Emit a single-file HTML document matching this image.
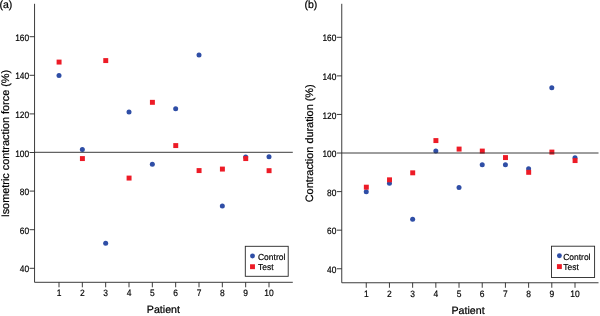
<!DOCTYPE html>
<html><head><meta charset="utf-8"><title>Figure</title>
<style>
html,body{margin:0;padding:0;background:#fff;}
svg{display:block;will-change:transform;}
text{font-family:"Liberation Sans",Arial,Helvetica,sans-serif;fill:#000;stroke:#000;stroke-width:0.22px;text-rendering:geometricPrecision;}
.t{font-size:9.3px;stroke-width:0.18px;}
.l{font-size:8.7px;stroke-width:0.18px;}
.p{font-size:10.5px;}
.y{font-size:10.88px;}
.x{font-size:10.65px;}
</style></head>
<body>
<svg width="600" height="316" viewBox="0 0 600 316">
<rect width="600" height="316" fill="#fff"/>
<path d="M34.55 3.8V282.3H292.8" fill="none" stroke="#262626" stroke-width="0.9"/>
<path d="M29.549999999999997 36.70H34.55" stroke="#262626" stroke-width="0.9"/>
<text transform="translate(29.1 40.85) scale(0.90 1)" text-anchor="end" class="t">160</text>
<path d="M29.549999999999997 75.30H34.55" stroke="#262626" stroke-width="0.9"/>
<text transform="translate(29.1 79.45) scale(0.90 1)" text-anchor="end" class="t">140</text>
<path d="M29.549999999999997 113.90H34.55" stroke="#262626" stroke-width="0.9"/>
<text transform="translate(29.1 118.05) scale(0.90 1)" text-anchor="end" class="t">120</text>
<path d="M29.549999999999997 152.50H34.55" stroke="#262626" stroke-width="0.9"/>
<text transform="translate(29.1 156.65) scale(0.90 1)" text-anchor="end" class="t">100</text>
<path d="M29.549999999999997 191.10H34.55" stroke="#262626" stroke-width="0.9"/>
<text transform="translate(29.1 195.25) scale(0.90 1)" text-anchor="end" class="t">80</text>
<path d="M29.549999999999997 229.70H34.55" stroke="#262626" stroke-width="0.9"/>
<text transform="translate(29.1 233.85) scale(0.90 1)" text-anchor="end" class="t">60</text>
<path d="M29.549999999999997 268.30H34.55" stroke="#262626" stroke-width="0.9"/>
<text transform="translate(29.1 272.45) scale(0.90 1)" text-anchor="end" class="t">40</text>
<path d="M59.00 282.3V287.3" stroke="#262626" stroke-width="0.9"/>
<text transform="translate(59.00 296.2) scale(0.91 1)" text-anchor="middle" class="t">1</text>
<path d="M82.33 282.3V287.3" stroke="#262626" stroke-width="0.9"/>
<text transform="translate(82.33 296.2) scale(0.91 1)" text-anchor="middle" class="t">2</text>
<path d="M105.67 282.3V287.3" stroke="#262626" stroke-width="0.9"/>
<text transform="translate(105.67 296.2) scale(0.91 1)" text-anchor="middle" class="t">3</text>
<path d="M129.00 282.3V287.3" stroke="#262626" stroke-width="0.9"/>
<text transform="translate(129.00 296.2) scale(0.91 1)" text-anchor="middle" class="t">4</text>
<path d="M152.33 282.3V287.3" stroke="#262626" stroke-width="0.9"/>
<text transform="translate(152.33 296.2) scale(0.91 1)" text-anchor="middle" class="t">5</text>
<path d="M175.67 282.3V287.3" stroke="#262626" stroke-width="0.9"/>
<text transform="translate(175.67 296.2) scale(0.91 1)" text-anchor="middle" class="t">6</text>
<path d="M199.00 282.3V287.3" stroke="#262626" stroke-width="0.9"/>
<text transform="translate(199.00 296.2) scale(0.91 1)" text-anchor="middle" class="t">7</text>
<path d="M222.33 282.3V287.3" stroke="#262626" stroke-width="0.9"/>
<text transform="translate(222.33 296.2) scale(0.91 1)" text-anchor="middle" class="t">8</text>
<path d="M245.67 282.3V287.3" stroke="#262626" stroke-width="0.9"/>
<text transform="translate(245.67 296.2) scale(0.91 1)" text-anchor="middle" class="t">9</text>
<path d="M269.00 282.3V287.3" stroke="#262626" stroke-width="0.9"/>
<text transform="translate(269.00 296.2) scale(0.91 1)" text-anchor="middle" class="t">10</text>
<circle cx="59.00" cy="75.4" r="2.5" fill="#2f4ea6"/>
<circle cx="82.33" cy="149.5" r="2.5" fill="#2f4ea6"/>
<circle cx="105.67" cy="243.25" r="2.5" fill="#2f4ea6"/>
<circle cx="129.00" cy="112" r="2.5" fill="#2f4ea6"/>
<circle cx="152.33" cy="164.25" r="2.5" fill="#2f4ea6"/>
<circle cx="175.67" cy="108.75" r="2.5" fill="#2f4ea6"/>
<circle cx="199.00" cy="55" r="2.5" fill="#2f4ea6"/>
<circle cx="222.33" cy="206" r="2.5" fill="#2f4ea6"/>
<circle cx="245.67" cy="157" r="2.5" fill="#2f4ea6"/>
<circle cx="269.00" cy="156.8" r="2.5" fill="#2f4ea6"/>
<rect x="56.60" y="59.60" width="4.95" height="4.95" fill="#ed1b26"/>
<rect x="79.93" y="156.10" width="4.95" height="4.95" fill="#ed1b26"/>
<rect x="103.27" y="58.10" width="4.95" height="4.95" fill="#ed1b26"/>
<rect x="126.60" y="175.60" width="4.95" height="4.95" fill="#ed1b26"/>
<rect x="149.93" y="99.85" width="4.95" height="4.95" fill="#ed1b26"/>
<rect x="173.27" y="143.10" width="4.95" height="4.95" fill="#ed1b26"/>
<rect x="196.60" y="168.10" width="4.95" height="4.95" fill="#ed1b26"/>
<rect x="219.93" y="166.60" width="4.95" height="4.95" fill="#ed1b26"/>
<rect x="243.27" y="156.10" width="4.95" height="4.95" fill="#ed1b26"/>
<rect x="266.60" y="168.20" width="4.95" height="4.95" fill="#ed1b26"/>
<path d="M34.55 152.3H292.8" fill="none" stroke="#262626" stroke-width="0.9"/>
<rect x="245.3" y="246.3" width="42.89999999999998" height="30.0" fill="#fff" stroke="#262626" stroke-width="0.9"/>
<circle cx="252.5" cy="256.05" r="2.45" fill="#2f4ea6"/>
<rect x="250.05" y="264.25" width="4.9" height="4.9" fill="#ed1b26"/>
<text transform="translate(258 259.85) scale(0.975 1)" class="l">Control</text>
<text transform="translate(258 269.70) scale(0.975 1)" class="l">Test</text>
<text x="-0.5" y="8.3" class="p">(a)</text>
<text transform="translate(8.5 143.6) rotate(-90) scale(1 0.99)" text-anchor="middle" class="y">Isometric contraction force (%)</text>
<text x="163.4" y="313.4" text-anchor="middle" class="x">Patient</text>
<path d="M341.75 3.8V282.75H598.5" fill="none" stroke="#262626" stroke-width="0.9"/>
<path d="M336.75 37.30H341.75" stroke="#262626" stroke-width="0.9"/>
<text transform="translate(336.4 41.45) scale(0.90 1)" text-anchor="end" class="t">160</text>
<path d="M336.75 75.88H341.75" stroke="#262626" stroke-width="0.9"/>
<text transform="translate(336.4 80.03) scale(0.90 1)" text-anchor="end" class="t">140</text>
<path d="M336.75 114.45H341.75" stroke="#262626" stroke-width="0.9"/>
<text transform="translate(336.4 118.60) scale(0.90 1)" text-anchor="end" class="t">120</text>
<path d="M336.75 153.02H341.75" stroke="#262626" stroke-width="0.9"/>
<text transform="translate(336.4 157.17) scale(0.90 1)" text-anchor="end" class="t">100</text>
<path d="M336.75 191.60H341.75" stroke="#262626" stroke-width="0.9"/>
<text transform="translate(336.4 195.75) scale(0.90 1)" text-anchor="end" class="t">80</text>
<path d="M336.75 230.17H341.75" stroke="#262626" stroke-width="0.9"/>
<text transform="translate(336.4 234.32) scale(0.90 1)" text-anchor="end" class="t">60</text>
<path d="M336.75 268.75H341.75" stroke="#262626" stroke-width="0.9"/>
<text transform="translate(336.4 272.90) scale(0.90 1)" text-anchor="end" class="t">40</text>
<path d="M366.25 282.75V287.75" stroke="#262626" stroke-width="0.9"/>
<text transform="translate(366.25 297.0) scale(0.91 1)" text-anchor="middle" class="t">1</text>
<path d="M389.44 282.75V287.75" stroke="#262626" stroke-width="0.9"/>
<text transform="translate(389.44 297.0) scale(0.91 1)" text-anchor="middle" class="t">2</text>
<path d="M412.64 282.75V287.75" stroke="#262626" stroke-width="0.9"/>
<text transform="translate(412.64 297.0) scale(0.91 1)" text-anchor="middle" class="t">3</text>
<path d="M435.83 282.75V287.75" stroke="#262626" stroke-width="0.9"/>
<text transform="translate(435.83 297.0) scale(0.91 1)" text-anchor="middle" class="t">4</text>
<path d="M459.03 282.75V287.75" stroke="#262626" stroke-width="0.9"/>
<text transform="translate(459.03 297.0) scale(0.91 1)" text-anchor="middle" class="t">5</text>
<path d="M482.22 282.75V287.75" stroke="#262626" stroke-width="0.9"/>
<text transform="translate(482.22 297.0) scale(0.91 1)" text-anchor="middle" class="t">6</text>
<path d="M505.42 282.75V287.75" stroke="#262626" stroke-width="0.9"/>
<text transform="translate(505.42 297.0) scale(0.91 1)" text-anchor="middle" class="t">7</text>
<path d="M528.61 282.75V287.75" stroke="#262626" stroke-width="0.9"/>
<text transform="translate(528.61 297.0) scale(0.91 1)" text-anchor="middle" class="t">8</text>
<path d="M551.81 282.75V287.75" stroke="#262626" stroke-width="0.9"/>
<text transform="translate(551.81 297.0) scale(0.91 1)" text-anchor="middle" class="t">9</text>
<path d="M575.00 282.75V287.75" stroke="#262626" stroke-width="0.9"/>
<text transform="translate(575.00 297.0) scale(0.91 1)" text-anchor="middle" class="t">10</text>
<circle cx="366.25" cy="191.8" r="2.5" fill="#2f4ea6"/>
<circle cx="389.44" cy="183.25" r="2.5" fill="#2f4ea6"/>
<circle cx="412.64" cy="219.25" r="2.5" fill="#2f4ea6"/>
<circle cx="435.83" cy="151" r="2.5" fill="#2f4ea6"/>
<circle cx="459.03" cy="187.5" r="2.5" fill="#2f4ea6"/>
<circle cx="482.22" cy="164.75" r="2.5" fill="#2f4ea6"/>
<circle cx="505.42" cy="164.75" r="2.5" fill="#2f4ea6"/>
<circle cx="528.61" cy="168.75" r="2.5" fill="#2f4ea6"/>
<circle cx="551.81" cy="87.75" r="2.5" fill="#2f4ea6"/>
<circle cx="575.00" cy="157.75" r="2.5" fill="#2f4ea6"/>
<rect x="363.85" y="184.70" width="4.95" height="4.95" fill="#ed1b26"/>
<rect x="387.04" y="177.35" width="4.95" height="4.95" fill="#ed1b26"/>
<rect x="410.24" y="170.35" width="4.95" height="4.95" fill="#ed1b26"/>
<rect x="433.43" y="138.10" width="4.95" height="4.95" fill="#ed1b26"/>
<rect x="456.63" y="146.60" width="4.95" height="4.95" fill="#ed1b26"/>
<rect x="479.82" y="148.60" width="4.95" height="4.95" fill="#ed1b26"/>
<rect x="503.02" y="155.10" width="4.95" height="4.95" fill="#ed1b26"/>
<rect x="526.21" y="169.85" width="4.95" height="4.95" fill="#ed1b26"/>
<rect x="549.41" y="149.60" width="4.95" height="4.95" fill="#ed1b26"/>
<rect x="572.60" y="158.10" width="4.95" height="4.95" fill="#ed1b26"/>
<path d="M341.75 153H598.5" fill="none" stroke="#262626" stroke-width="0.9"/>
<rect x="551.45" y="246.2" width="43.14999999999998" height="31.30000000000001" fill="#fff" stroke="#262626" stroke-width="0.9"/>
<circle cx="559.4" cy="255.75" r="2.45" fill="#2f4ea6"/>
<rect x="556.95" y="264.15" width="4.9" height="4.9" fill="#ed1b26"/>
<text transform="translate(563.2 259.55) scale(0.975 1)" class="l">Control</text>
<text transform="translate(563.2 269.60) scale(0.975 1)" class="l">Test</text>
<text x="304.5" y="8.3" class="p">(b)</text>
<text transform="translate(313.0 143.3) rotate(-90) scale(1 0.99)" text-anchor="middle" class="y">Contraction duration (%)</text>
<text x="468.1" y="313.6" text-anchor="middle" class="x">Patient</text>
</svg>
</body></html>
